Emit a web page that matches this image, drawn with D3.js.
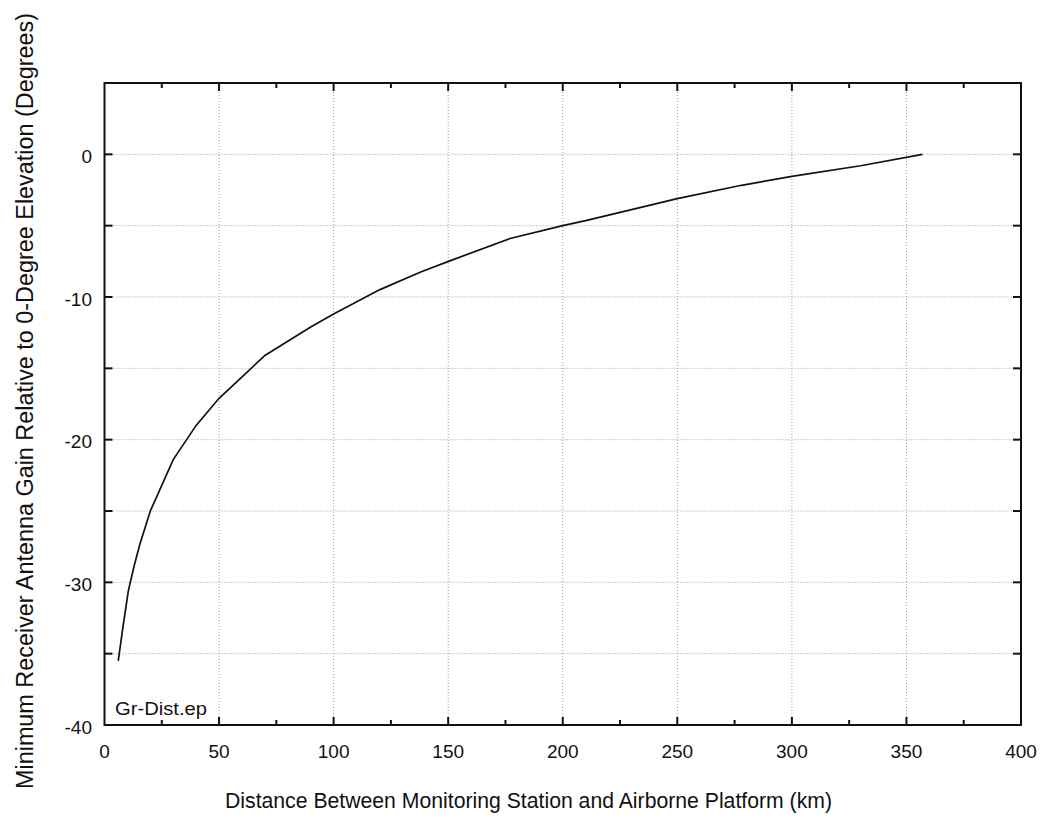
<!DOCTYPE html>
<html>
<head>
<meta charset="utf-8">
<script src="https://cdn.jsdelivr.net/npm/d3@7"></script>
<style>
  body { margin: 0; background: #fff; }
  svg { font-family: "Liberation Sans", Arial, Helvetica, sans-serif; }
</style>
</head>
<body>
<svg id="chart" width="1045" height="819"></svg>
<script>
// distance (km) vs minimum gain (deg)
var distance = [6, 8, 10.4, 13, 15.5, 20, 30, 40, 50, 70, 90, 100, 120, 138, 151, 177, 200, 210, 250, 278, 300, 330, 357];
var gain = [-35.5, -33.2, -30.6, -28.8, -27.3, -25.0, -21.4, -19.0, -17.1, -14.1, -12.1, -11.2, -9.5, -8.25, -7.45, -5.9, -5.0, -4.65, -3.1, -2.17, -1.55, -0.8, 0];
var xTicks = [0, 50, 100, 150, 200, 250, 300, 350, 400];
var yTicks = [-40, -30, -20, -10, 0];
var fileLabel = "Gr-Dist.ep";

var svg = d3.select("#chart");
var plotL = 104.5, plotR = 1021, plotT = 83, plotB = 725;

var x = d3.scaleLinear().domain([0, 400]).range([plotL, plotR]);
var y = d3.scaleLinear().domain([-40, 5]).range([plotB, plotT]);

/**
Grid
*/
var grid = svg.append("g").style("stroke", "#9a9a9a").style("stroke-width", "1px").style("stroke-dasharray", "1,2");
grid.selectAll("line.v").data(d3.range(50, 400, 50)).enter().append("line")
	.attr("x1", function(d) { return x(d); }).attr("x2", function(d) { return x(d); })
	.attr("y1", plotT).attr("y2", plotB);
grid.selectAll("line.h").data(d3.range(-35, 5, 5)).enter().append("line")
	.attr("x1", plotL).attr("x2", plotR)
	.attr("y1", function(d) { return y(d); }).attr("y2", function(d) { return y(d); });

/**
Ticks (inward, all four sides)
*/
var ticks = svg.append("g").style("stroke", "#111").style("stroke-width", "2px");
d3.range(25, 400, 25).forEach(function(d){
	var len = d % 50 == 0 ? 8 : 5;
	ticks.append("line").attr("x1", x(d)).attr("x2", x(d)).attr("y1", plotB).attr("y2", plotB - len);
	ticks.append("line").attr("x1", x(d)).attr("x2", x(d)).attr("y1", plotT).attr("y2", plotT + len);
});
d3.range(-35, 5, 5).forEach(function(d){
	ticks.append("line").attr("x1", plotL).attr("x2", plotL + 8).attr("y1", y(d)).attr("y2", y(d));
	ticks.append("line").attr("x1", plotR).attr("x2", plotR - 8).attr("y1", y(d)).attr("y2", y(d));
});

/**
Frame
*/
svg.append("rect")
	.attr("x", plotL).attr("y", plotT)
	.attr("width", plotR - plotL).attr("height", plotB - plotT)
	.style("fill", "none").style("stroke", "#111").style("stroke-width", "2px");

/**
Tick labels
*/
svg.append("g").selectAll("text").data(xTicks).enter().append("text")
	.attr("x", function(d) { return x(d); })
	.attr("y", 758)
	.attr("text-anchor", "middle")
	.style("font-size", "19px").style("fill", "#111")
	.text(function(d) { return d; });

svg.append("g").selectAll("text").data(yTicks).enter().append("text")
	.attr("x", 92)
	.attr("y", function(d) { return y(d) + 8.5; })
	.attr("text-anchor", "end")
	.style("font-size", "19px").style("fill", "#111")
	.text(function(d) { return d; });

/**
Curve
*/
var line = d3.line()
	.x(function(d) { return x(d[0]); })
	.y(function(d) { return y(d[1]); });
svg.append("path")
	.datum(d3.zip(distance, gain))
	.attr("d", line)
	.style("fill", "none")
	.style("stroke", "#111")
	.style("stroke-width", "1.7px");

svg.append("text")
	.attr("x", 115).attr("y", 715)
	.style("font-size", "19px").style("fill", "#111")
	.attr("textLength", 92).attr("lengthAdjust", "spacingAndGlyphs")
	.text(fileLabel);

/**
Axis titles
*/
svg.append("text")
	.attr("x", 225).attr("y", 808)
	.style("font-size", "22px").style("fill", "#111")
	.attr("textLength", 607).attr("lengthAdjust", "spacingAndGlyphs")
	.text("Distance Between Monitoring Station and Airborne Platform (km)");

svg.append("text")
	.attr("transform", "translate(32.5," + 401 + ") rotate(-90)")
	.attr("text-anchor", "middle")
	.style("font-size", "23px").style("fill", "#111")
	.attr("textLength", 776).attr("lengthAdjust", "spacingAndGlyphs")
	.text("Minimum Receiver Antenna Gain Relative to 0-Degree Elevation (Degrees)");
</script>
</body>
</html>
